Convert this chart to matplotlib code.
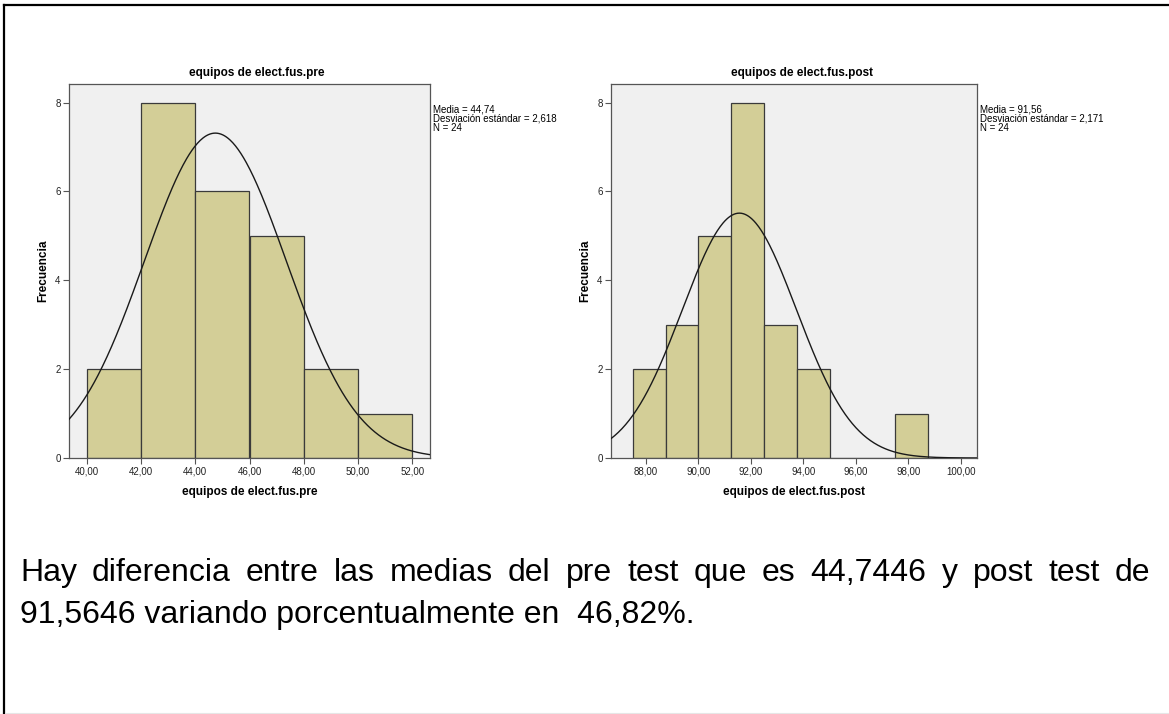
import numpy as np
import matplotlib
matplotlib.use("Agg")
import matplotlib.pyplot as plt
from matplotlib.lines import Line2D

# ---- data ----
pre_edges = [40.0, 42.0, 44.0, 46.0, 48.0, 50.0, 52.0]
pre_counts = [2, 8, 6, 5, 2, 1]
pre_mean, pre_sd, pre_n = 44.74, 2.618, 24
pre_ticks = [40, 42, 44, 46, 48, 50, 52]
pre_xlim = (39.34, 52.66)

post_edges = [87.5, 88.75, 90.0, 91.25, 92.5, 93.75, 95.0, 96.25, 97.5, 98.75]
post_counts = [2, 3, 5, 8, 3, 2, 0, 0, 1]
post_mean, post_sd, post_n = 91.56, 2.171, 24
post_ticks = [88, 90, 92, 94, 96, 98, 100]
post_xlim = (86.67, 100.61)

y_ticks = [0, 2, 4, 6, 8]
y_max = 8.42

pre_name = "equipos de elect.fus.pre"
post_name = "equipos de elect.fus.post"

line1_words = ["Hay", "diferencia", "entre", "las", "medias", "del", "pre", "test",
               "que", "es", "44,7446", "y", "post", "test", "de"]
line2 = "91,5646 variando porcentualmente en  46,82%."

# ---- style ----
plt.rcParams["font.family"] = ["Liberation Sans", "DejaVu Sans"]
BAR = "#d3ce97"
BG = "#f0f0f0"
FRAME = "#555555"

W, H = 1169, 714
fig = plt.figure(figsize=(W / 100, H / 100), dpi=100)
fig.patch.set_facecolor("white")


def px_axes(x0, y0, x1, y1):
    return fig.add_axes([x0 / W, 1 - y1 / H, (x1 - x0) / W, (y1 - y0) / H])


def comma(v, decimals=2):
    return f"{v:.{decimals}f}".replace(".", ",")


def histogram(ax, edges, counts, mean, sd, n, ticks, xlim, name, title_x, ylabel_x):
    ax.set_facecolor(BG)
    edges = np.asarray(edges)
    widths = np.diff(edges)
    ax.bar(edges[:-1], counts, width=widths, align="edge", color=BAR,
           edgecolor="#3a3a3a", linewidth=0.9, zorder=2)
    bw = widths[0]
    xs = np.linspace(xlim[0], xlim[1], 400)
    ys = n * bw / (sd * np.sqrt(2 * np.pi)) * np.exp(-0.5 * ((xs - mean) / sd) ** 2)
    ax.plot(xs, ys, color="#1a1a1a", linewidth=1.0, zorder=3)
    ax.set_xlim(*xlim)
    ax.set_ylim(0, y_max)
    ax.set_xticks(ticks)
    ax.set_xticklabels([comma(t) for t in ticks])
    ax.set_yticks(y_ticks)
    ax.set_yticklabels([str(t) for t in y_ticks])
    ax.tick_params(direction="out", length=4, width=0.8, color=FRAME,
                   labelsize=7, labelcolor="#222222", pad=2)
    for s in ax.spines.values():
        s.set_color(FRAME)
        s.set_linewidth(0.9)
    ax.set_xlabel(name, fontsize=8.5, fontweight="bold", labelpad=7)
    fig.text(title_x / W, 1 - 73 / H, name, fontsize=8.5, fontweight="bold",
             ha="center", va="center")
    fig.text(ylabel_x / W, 1 - 271 / H, "Frecuencia", fontsize=8.5,
             fontweight="bold", rotation=90, ha="center", va="center")
    bbox = ax.get_position()
    fig.text(bbox.x1 + 3 / W, 1 - 104 / H,
             f"Media = {comma(mean)}\nDesviación estándar = {comma(sd, 3)}\nN = {n}",
             fontsize=7, ha="left", va="top", linespacing=0.95)


ax1 = px_axes(69, 84, 430, 458)
histogram(ax1, pre_edges, pre_counts, pre_mean, pre_sd, pre_n, pre_ticks,
          pre_xlim, pre_name, 257, 43)
ax2 = px_axes(611, 84, 977, 458)
histogram(ax2, post_edges, post_counts, post_mean, post_sd, post_n, post_ticks,
          post_xlim, post_name, 802, 585)

# ---- paragraph below the charts ----
para_size = 23
left_px, right_px = 20, 1150
fig.canvas.draw()
renderer = fig.canvas.get_renderer()

# first line, justified between the margins
items = [fig.text(0, 1 - 581 / H, w, fontsize=para_size, ha="left", va="baseline")
         for w in line1_words]
widths = [t.get_window_extent(renderer).width for t in items]
gap = (right_px - left_px - sum(widths)) / (len(items) - 1)
x = left_px
for t, wd in zip(items, widths):
    t.set_x(x / W)
    x += wd + gap

# second line, left aligned (last line of the paragraph)
fig.text(left_px / W, 1 - 623 / H, line2, fontsize=para_size,
         ha="left", va="baseline")

# page border lines
fig.add_artist(Line2D([3.5 / W, 3.5 / W], [0, 1 - 4.5 / H], transform=fig.transFigure,
                      color="black", linewidth=1.6))
fig.add_artist(Line2D([3.5 / W, 1], [1 - 4.5 / H, 1 - 4.5 / H], transform=fig.transFigure,
                      color="black", linewidth=1.6))
fig.add_artist(Line2D([6 / W, 1], [0.8 / H, 0.8 / H], transform=fig.transFigure,
                      color="#e6e6e6", linewidth=0.8))

fig.savefig("out.png", dpi=100, facecolor="white")
